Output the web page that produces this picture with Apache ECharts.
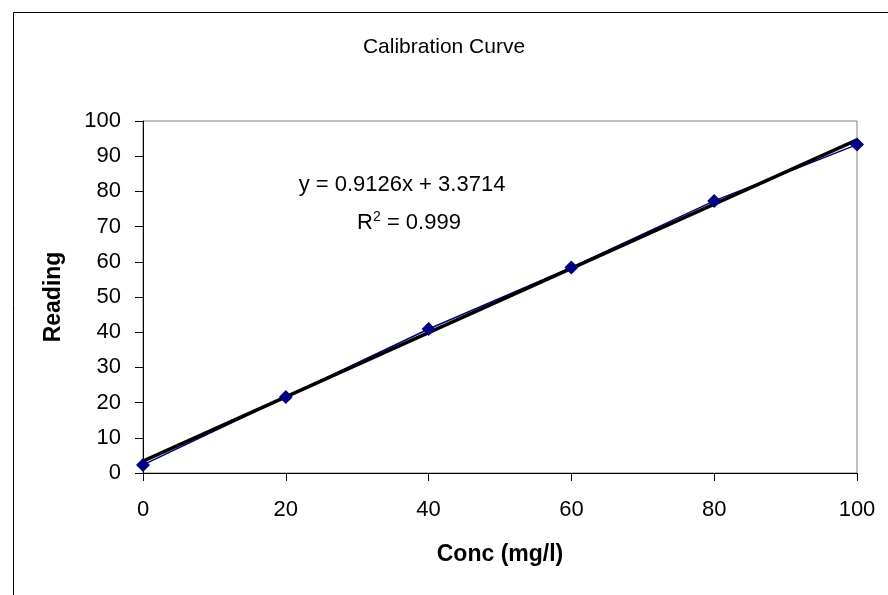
<!DOCTYPE html>
<html><head><meta charset="utf-8">
<script src="https://cdn.jsdelivr.net/npm/echarts@6/dist/echarts.min.js"></script>
<style>html,body{margin:0;padding:0;background:#fff}#c{width:888px;height:595px}</style>
</head><body><div id="c"></div>
<script>
var concs = [0, 20, 40, 60, 80, 100];
var readings = [2.3, 21.6, 40.9, 58.4, 77.3, 93.3];
var trendX = [0, 100];
var trendY = [3.3714, 94.6314];
var yTicks = [0,10,20,30,40,50,60,70,80,90,100];
var xTicks = [0,20,40,60,80,100];
var titleText = 'Calibration Curve';
var eqText = 'y = 0.9126x + 3.3714';
var r2Value = '0.999';

var pts = concs.map(function(c,i){return [c, readings[i]];});
var trend = trendX.map(function(x,i){return [x, trendY[i]];});
var font = 'Liberation Sans, Arial, sans-serif';
var chart = echarts.init(document.getElementById('c'));
chart.setOption({
  animation: false,
  backgroundColor: '#fff',
  title: {text: titleText, left: 'center', top: 32, textStyle: {fontFamily: font, fontSize: 21, fontWeight: 'normal', color: '#000'}},
  grid: {left: 143, top: 121, right: 31, bottom: 122, show: true, borderColor: '#808080', borderWidth: 1, backgroundColor: 'transparent'},
  xAxis: {type: 'value', min: 0, max: 100, interval: 20,
    name: 'Conc (mg/l)', nameLocation: 'middle', nameGap: 70,
    nameTextStyle: {fontFamily: font, fontSize: 23, fontWeight: 'bold', color: '#000'},
    axisLine: {show: true, onZero: false, lineStyle: {color: '#000', width: 1}},
    axisTick: {show: true, inside: false, length: 8, lineStyle: {color: '#000'}},
    axisLabel: {fontFamily: font, fontSize: 22, color: '#000', margin: 26},
    splitLine: {show: false}},
  yAxis: {type: 'value', min: 0, max: 100, interval: 10,
    name: 'Reading', nameLocation: 'middle', nameGap: 78, nameRotate: 90,
    nameTextStyle: {fontFamily: font, fontSize: 23, fontWeight: 'bold', color: '#000'},
    axisLine: {show: true, onZero: false, lineStyle: {color: '#000', width: 1}},
    axisTick: {show: true, inside: false, length: 8, lineStyle: {color: '#000'}},
    axisLabel: {fontFamily: font, fontSize: 22, color: '#000', margin: 22},
    splitLine: {show: false}},
  series: [
    {type: 'line', data: pts, symbol: 'none', z: 2, lineStyle: {color: '#000080', width: 1.5}},
    {type: 'line', data: trend, symbol: 'none', z: 3, lineStyle: {color: '#000', width: 3.5}},
    {type: 'scatter', data: pts, symbol: 'diamond', symbolSize: 14, z: 4, itemStyle: {color: '#000080', opacity: 1}}
  ],
  graphic: [
    {type: 'rect', left: 11, top: 10, shape: {width: 875, height: 600}, style: {fill: 'none', stroke: '#000', lineWidth: 1}, silent: true, z: -1},
    {type: 'text', x: 402, y: 185, style: {text: eqText, fontFamily: font, fontSize: 22, fill: '#000', align: 'center', verticalAlign: 'middle'}},
    {type: 'text', x: 409, y: 222, style: {text: '{a|R}{s|2}{a| = ' + r2Value + '}', fontFamily: font, align: 'center', verticalAlign: 'middle',
      rich: {a: {fontFamily: font, fontSize: 22, fill: '#000', verticalAlign: 'bottom'}, s: {fontFamily: font, fontSize: 14, fill: '#000', verticalAlign: 'top', padding: [0,0,10,0]}}}}
  ]
});
</script>
</body></html>
